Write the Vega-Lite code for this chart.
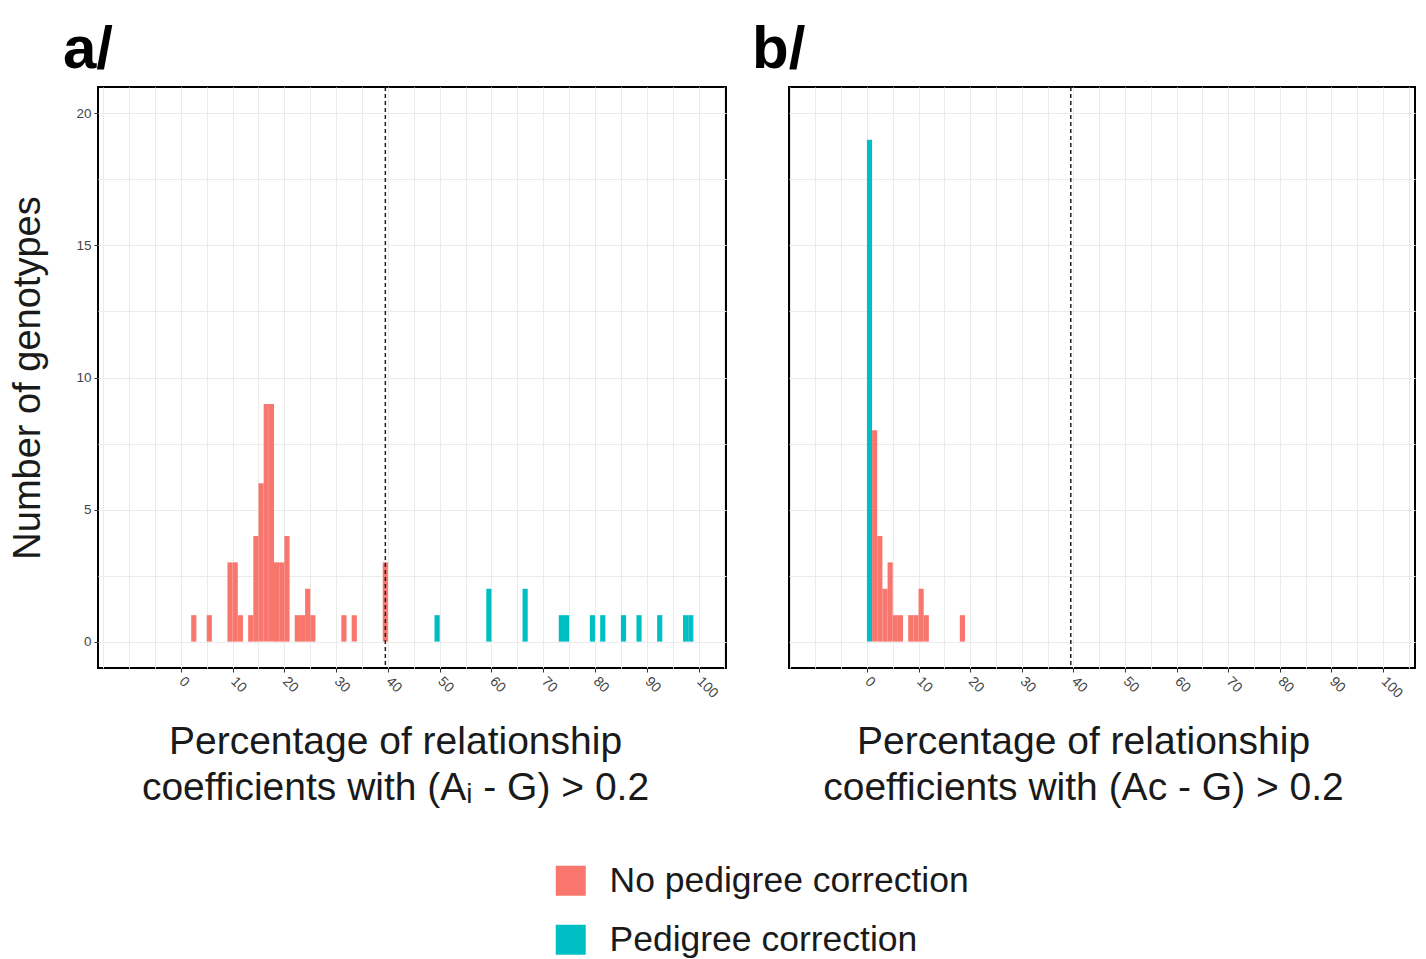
{
  "$schema": "https://vega.github.io/schema/vega-lite/v6.json",
  "background": "white",
  "padding": {"left": 8, "top": 19, "right": 5, "bottom": 5},
  "datasets": {
    "a": [
      {"group": "No pedigree correction", "start": 2, "end": 3, "count": 1},
      {"group": "No pedigree correction", "start": 5, "end": 6, "count": 1},
      {"group": "No pedigree correction", "start": 9, "end": 10, "count": 3},
      {"group": "No pedigree correction", "start": 10, "end": 11, "count": 3},
      {"group": "No pedigree correction", "start": 11, "end": 12, "count": 1},
      {"group": "No pedigree correction", "start": 13, "end": 14, "count": 1},
      {"group": "No pedigree correction", "start": 14, "end": 15, "count": 4},
      {"group": "No pedigree correction", "start": 15, "end": 16, "count": 6},
      {"group": "No pedigree correction", "start": 16, "end": 17, "count": 9},
      {"group": "No pedigree correction", "start": 17, "end": 18, "count": 9},
      {"group": "No pedigree correction", "start": 18, "end": 19, "count": 3},
      {"group": "No pedigree correction", "start": 19, "end": 20, "count": 3},
      {"group": "No pedigree correction", "start": 20, "end": 21, "count": 4},
      {"group": "No pedigree correction", "start": 22, "end": 23, "count": 1},
      {"group": "No pedigree correction", "start": 23, "end": 24, "count": 1},
      {"group": "No pedigree correction", "start": 24, "end": 25, "count": 2},
      {"group": "No pedigree correction", "start": 25, "end": 26, "count": 1},
      {"group": "No pedigree correction", "start": 31, "end": 32, "count": 1},
      {"group": "No pedigree correction", "start": 33, "end": 34, "count": 1},
      {"group": "No pedigree correction", "start": 39, "end": 40, "count": 3},
      {"group": "Pedigree correction", "start": 49, "end": 50, "count": 1},
      {"group": "Pedigree correction", "start": 59, "end": 60, "count": 2},
      {"group": "Pedigree correction", "start": 66, "end": 67, "count": 2},
      {"group": "Pedigree correction", "start": 73, "end": 74, "count": 1},
      {"group": "Pedigree correction", "start": 74, "end": 75, "count": 1},
      {"group": "Pedigree correction", "start": 79, "end": 80, "count": 1},
      {"group": "Pedigree correction", "start": 81, "end": 82, "count": 1},
      {"group": "Pedigree correction", "start": 85, "end": 86, "count": 1},
      {"group": "Pedigree correction", "start": 88, "end": 89, "count": 1},
      {"group": "Pedigree correction", "start": 92, "end": 93, "count": 1},
      {"group": "Pedigree correction", "start": 97, "end": 98, "count": 1},
      {"group": "Pedigree correction", "start": 98, "end": 99, "count": 1}
    ],
    "b": [
      {"group": "Pedigree correction", "start": 0, "end": 1, "count": 19},
      {"group": "No pedigree correction", "start": 1, "end": 2, "count": 8},
      {"group": "No pedigree correction", "start": 2, "end": 3, "count": 4},
      {"group": "No pedigree correction", "start": 3, "end": 4, "count": 2},
      {"group": "No pedigree correction", "start": 4, "end": 5, "count": 3},
      {"group": "No pedigree correction", "start": 5, "end": 6, "count": 1},
      {"group": "No pedigree correction", "start": 6, "end": 7, "count": 1},
      {"group": "No pedigree correction", "start": 8, "end": 9, "count": 1},
      {"group": "No pedigree correction", "start": 9, "end": 10, "count": 1},
      {"group": "No pedigree correction", "start": 10, "end": 11, "count": 2},
      {"group": "No pedigree correction", "start": 11, "end": 12, "count": 1},
      {"group": "No pedigree correction", "start": 18, "end": 19, "count": 1}
    ],
    "threshold": [{"threshold": 39.5}]
  },
  "config": {
    "font": "Liberation Sans",
    "view": {"stroke": "black", "strokeWidth": 2},
    "concat": {"spacing": 24},
    "axis": {
      "domain": false,
      "gridColor": "#EBEBEB",
      "gridWidth": 1,
      "tickColor": "#333333",
      "tickSize": 4,
      "tickWidth": 1,
      "labelColor": "#4D4D4D",
      "labelFontSize": 13,
      "labelFont": "Liberation Sans",
      "titleFont": "Liberation Sans",
      "titleFontWeight": "normal",
      "titleColor": "#1a1a1a"
    }
  },
  "resolve": {"scale": {"color": "shared"}},
  "hconcat": [
    {
      "title": {"text": "a/", "anchor": "start", "frame": "group", "fontSize": 60, "fontWeight": "bold", "color": "#000000", "dx": -35, "offset": 5},
      "width": 628,
      "height": 581,
      "resolve": {"axis": {"x": "independent"}},
      "layer": [
        {
          "data": {"name": "a"},
          "mark": {"type": "bar", "opacity": 1},
          "encoding": {
            "x": {
              "field": "start", "type": "quantitative",
              "scale": {"domain": [-16, 105.3], "nice": false, "zero": false},
              "axis": {
                "values": [0, 10, 20, 30, 40, 50, 60, 70, 80, 90, 100],
                "grid": false,
                "labelAngle": 45, "labelAlign": "left", "labelBaseline": "middle", "labelPadding": 7,
                "labelFontSize": 14, "labelColor": "#444444",
                "labelOverlap": false, "labelFlush": false,
                "title": ["Percentage of relationship", "coefficients with (Aᵢ - G) > 0.2"],
                "titleFontSize": 39, "titleLineHeight": 46, "titleAlign": "center", "titleBaseline": "top",
                "titleX": 297, "titleY": 54
              }
            },
            "x2": {"field": "end"},
            "y": {
              "field": "count", "type": "quantitative",
              "scale": {"domain": [-1, 21], "nice": false, "zero": false},
              "axis": {
                "values": [0, 2.5, 5, 7.5, 10, 12.5, 15, 17.5, 20],
                "labelExpr": "datum.value % 5 === 0 ? datum.label : ''",
                "tickOpacity": {"condition": {"test": "datum.value % 5 === 0", "value": 1}, "value": 0},
                "labelPadding": 3, "labelFontSize": 13.5, "labelColor": "#444444",
                "title": "Number of genotypes", "titleFontSize": 38, "titlePadding": 28
              }
            },
            "y2": {"datum": 0},
            "color": {
              "field": "group", "type": "nominal",
              "scale": {"domain": ["No pedigree correction", "Pedigree correction"], "range": ["#F8766D", "#00BFC4"]},
              "legend": {
                "title": null, "orient": "none", "legendX": 455, "legendY": 776, "direction": "vertical",
                "symbolType": "square", "symbolSize": 900, "symbolStrokeWidth": 0, "symbolOpacity": 1,
                "labelFontSize": 35.5, "labelColor": "#1a1a1a", "labelFont": "Liberation Sans", "labelOffset": 21,
                "rowPadding": 22, "labelLimit": 600
              }
            }
          }
        },
        {
          "data": {"name": "threshold"},
          "mark": {"type": "rule", "color": "#222222", "strokeWidth": 1.5, "strokeDash": [4, 3]},
          "encoding": {
            "x": {
              "field": "threshold", "type": "quantitative",
              "axis": {
                "orient": "top",
                "values": [-15, -10, -5, 0, 5, 10, 15, 20, 25, 30, 35, 40, 45, 50, 55, 60, 65, 70, 75, 80, 85, 90, 95, 100, 105],
                "grid": true, "labels": false, "ticks": false, "domain": false, "title": null,
                "minExtent": 0, "maxExtent": 0
              }
            }
          }
        }
      ]
    },
    {
      "title": {"text": "b/", "anchor": "start", "frame": "group", "fontSize": 60, "fontWeight": "bold", "color": "#000000", "dx": -37, "offset": 5},
      "width": 626,
      "height": 581,
      "resolve": {"axis": {"x": "independent"}},
      "layer": [
        {
          "data": {"name": "b"},
          "mark": {"type": "bar", "opacity": 1},
          "encoding": {
            "x": {
              "field": "start", "type": "quantitative",
              "scale": {"domain": [-15.1, 106.2], "nice": false, "zero": false},
              "axis": {
                "values": [0, 10, 20, 30, 40, 50, 60, 70, 80, 90, 100],
                "grid": false,
                "labelAngle": 45, "labelAlign": "left", "labelBaseline": "middle", "labelPadding": 7,
                "labelFontSize": 14, "labelColor": "#444444",
                "labelOverlap": false, "labelFlush": false,
                "title": ["Percentage of relationship", "coefficients with (Aᴄ - G) > 0.2"],
                "titleFontSize": 39, "titleLineHeight": 46, "titleAlign": "center", "titleBaseline": "top",
                "titleX": 294, "titleY": 54
              }
            },
            "x2": {"field": "end"},
            "y": {
              "field": "count", "type": "quantitative",
              "scale": {"domain": [-1, 21], "nice": false, "zero": false},
              "axis": {
                "values": [0, 2.5, 5, 7.5, 10, 12.5, 15, 17.5, 20],
                "labels": false, "ticks": false, "title": null, "minExtent": 0, "maxExtent": 0
              }
            },
            "y2": {"datum": 0},
            "color": {"field": "group", "type": "nominal"}
          }
        },
        {
          "data": {"name": "threshold"},
          "mark": {"type": "rule", "color": "#222222", "strokeWidth": 1.5, "strokeDash": [4, 3]},
          "encoding": {
            "x": {
              "field": "threshold", "type": "quantitative",
              "axis": {
                "orient": "top",
                "values": [-15, -10, -5, 0, 5, 10, 15, 20, 25, 30, 35, 40, 45, 50, 55, 60, 65, 70, 75, 80, 85, 90, 95, 100, 105],
                "grid": true, "labels": false, "ticks": false, "domain": false, "title": null,
                "minExtent": 0, "maxExtent": 0
              }
            }
          }
        }
      ]
    }
  ]
}
